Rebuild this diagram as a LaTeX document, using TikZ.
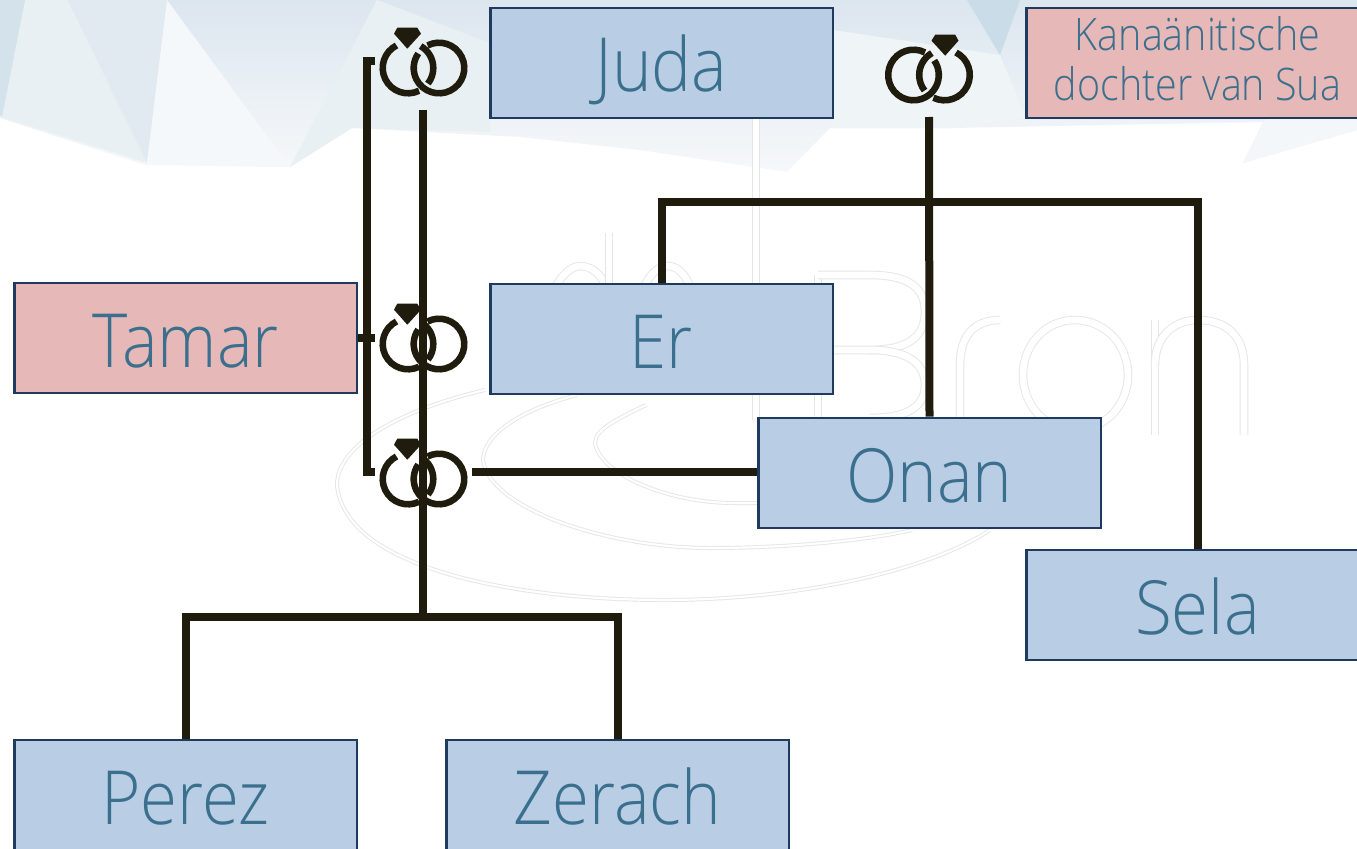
\documentclass[tikz,border=0pt]{standalone}
\usepackage{fontspec}
\setmainfont{Open Sans}[UprightFont=* Light]
\newfontfamily\bigface{Open Sans}[UprightFont=* Light,FakeStretch=0.9]
\newfontfamily\smallface{Open Sans}[UprightFont=* Light,FakeStretch=0.88]
\definecolor{boxblue}{HTML}{B9CDE4}
\definecolor{boxpink}{HTML}{E6B8B7}
\definecolor{boxedge}{HTML}{1F3A5F}
\definecolor{textblue}{HTML}{3A6F8D}
\definecolor{ink}{HTML}{1F1C0E}
\definecolor{wm}{HTML}{E6E6E6}
\definecolor{tinttop}{HTML}{DCE6EF}
\definecolor{tintlow}{HTML}{F6F8FA}
\definecolor{facetA}{HTML}{E8F0F3}
\definecolor{facetB}{HTML}{D3E2EB}
\definecolor{facetC}{HTML}{E1E9F1}
\definecolor{facetD}{HTML}{F5F8FA}
\definecolor{facetE}{HTML}{E9F0F4}
\definecolor{facetF}{HTML}{C9DCE7}
\definecolor{facetG}{HTML}{EFF4F7}
\definecolor{facetH}{HTML}{F4F7F9}
\tikzset{
  person/.style={draw=boxedge,line width=2pt,minimum width=257pt,minimum height=82.5pt,inner sep=0pt,text=textblue,align=center},
  bigname/.style={font=\bigface\fontsize{56}{60}\selectfont,text height=50pt,text depth=6.5pt},
  man/.style={person,fill=boxblue,bigname},
  woman/.style={person,fill=boxpink},
  link/.style={draw=ink,line width=6pt},
  wmletter/.style={draw=wm,line width=.7pt,double=white,double distance=5pt},
  wmswirl/.style={draw=wm,line width=.7pt,double=white,double distance=1.6pt},
  weddingrings/.pic={
    \draw[ink,line width=4.9pt] (-15.5,0)++(60:25.3) arc[start angle=60,end angle=-38,radius=25.3];
    \draw[ink,line width=4.9pt] (-15.5,0)++(-64:25.3) arc[start angle=-64,end angle=-243,radius=25.3];
    \draw[ink,line width=4.9pt] (15.5,0)++(117:25.3) arc[start angle=117,end angle=-215,radius=25.3];
    \fill[ink] (-26.2,40.3)--(-6.2,40.3)--(-2.5,34.3)--(-16.2,19.3)--(-29.5,34.3)--cycle;
  }
}
\begin{document}
\begin{tikzpicture}[x=.75pt,y=.75pt]
\useasboundingbox (0,0) rectangle (1357,-849);
\clip (0,0) rectangle (1357,-849);
% background facets
\fill[white] (0,0) rectangle (1357,-849);
\shade[top color=tinttop,bottom color=tintlow] (0,0) -- (1357,0) -- (1357,-130) -- (1243,-163) -- (1263,-122) -- (950,-128) -- (830,-128) -- (787,-172) -- (640,-150) -- (520,-137) -- (352,-128) -- (290,-167) -- (145,-165) -- (0,-118) -- cycle;
\fill[facetA] (25,0) -- (2,-117) -- (147,-163) -- (68,0) -- cycle;
\fill[facetB] (0,0) -- (25,0) -- (2,-117) -- (0,-115) -- cycle;
\fill[facetC] (68,0) -- (147,-163) -- (167,0) -- cycle;
\fill[facetD] (167,0) -- (147,-163) -- (290,-167) -- cycle;
\fill[facetE] (377,0) -- (290,-167) -- (352,-128) -- (490,-132) -- (490,-43) -- cycle;
\fill[facetF] (967,0) -- (1020,0) -- (1000,-55) -- cycle;
\fill[facetG] (833,-30) -- (1000,-55) -- (1026,-118) -- (950,-128) -- (833,-128) -- cycle;
\fill[facetH] (1263,-122) -- (1357,-60) -- (1357,-130) -- (1243,-163) -- cycle;
% watermark
\draw[wmletter] (756,-118) -- (756,-420);
\draw[wmletter] (818,-275) -- (818,-420);
\draw[wmletter] (818,-275) -- (870,-275) .. controls (912,-275) and (925,-290) .. (925,-312) .. controls (925,-335) and (910,-350) .. (870,-350) -- (818,-350);
\draw[wmletter] (870,-350) .. controls (910,-350) and (925,-365) .. (925,-385) .. controls (925,-405) and (910,-418) .. (870,-418);
\draw[wmletter] (960,-435) -- (960,-365) .. controls (960,-335) and (975,-320) .. (1000,-320);
\draw[wmletter] (1075,-320) .. controls (1045,-320) and (1023,-345) .. (1023,-375) .. controls (1023,-405) and (1045,-430) .. (1075,-430) .. controls (1105,-430) and (1128,-405) .. (1128,-375) .. controls (1128,-345) and (1105,-320) .. (1075,-320);
\draw[wmletter] (1155,-435) -- (1155,-320);
\draw[wmletter] (1155,-365) .. controls (1155,-335) and (1175,-320) .. (1198,-320) .. controls (1225,-320) and (1244,-335) .. (1244,-365) -- (1244,-435);
\draw[wmletter] (552,-300) .. controls (555,-280) and (570,-266) .. (580,-266) .. controls (595,-266) and (606,-280) .. (608,-295);
\draw[wmletter] (609,-233) -- (609,-290);
\draw[wmletter] (640,-300) .. controls (645,-280) and (655,-266) .. (668,-266) .. controls (680,-266) and (690,-280) .. (694,-300);
\draw[wmswirl] (485,-390) .. controls (400,-410) and (337,-445) .. (337,-485) .. controls (345,-570) and (520,-600) .. (664,-600) .. controls (800,-600) and (930,-570) .. (990,-530);
\draw[wmswirl] (577,-395) .. controls (520,-410) and (483,-435) .. (483,-460) .. controls (490,-510) and (610,-548) .. (710,-548) .. controls (790,-548) and (870,-540) .. (912,-530);
\draw[wmswirl] (646,-405) .. controls (615,-420) and (595,-430) .. (595,-443) .. controls (600,-475) and (670,-503) .. (733,-503) -- (760,-503);
% people
\node[man] (juda) at (661.5,-63) {Juda};
\node[woman,font=\smallface\fontsize{33.6}{37.5}\selectfont] (kanaan) at (1197.5,-63) {Kanaänitische\\dochter van Sua\rule[-7.5pt]{0pt}{0pt}};
\node[woman,bigname] (tamar) at (185.5,-338) {Tamar};
\node[man] (er) at (661.5,-339) {Er};
\node[man] (onan) at (929.5,-473) {Onan};
\node[man] (sela) at (1197.5,-605) {Sela};
\node[man] (perez) at (185.5,-795) {Perez};
\node[man] (zerach) at (617.5,-795) {Zerach};
% wedding icons
\pic at (423.5,-68) {weddingrings};
\pic at (423.5,-344) {weddingrings};
\pic at (423.5,-479) {weddingrings};
\pic[xscale=-1] at (929,-75) {weddingrings};
% free ends beside the icons
\coordinate (stemJ) at (423,-110);
\coordinate (stemK) at (929,-117);
\coordinate (joinJ) at (423,-617);
\coordinate (joinK) at (929,-202);
\coordinate (hookA) at (375,-61.5);
\coordinate (hookB) at (375,-338);
\coordinate (hookC) at (375,-472);
\coordinate (spine) at (366.5,-200);
\coordinate (ringOut) at (472,-472);
% connectors
\draw[link] (stemJ) -- (joinJ);
\draw[link] (perez.north) |- (joinJ) -| (zerach.north);
\draw[link] (stemK) -- (onan.north);
\draw[link] (er.north) |- (joinK) -| (sela.north);
\draw[link] (hookA) -| (spine) |- (hookC);
\draw[link] (tamar.east) -- (hookB);
\draw[link] (ringOut) -- (ringOut -| onan.west);
\end{tikzpicture}
\end{document}
